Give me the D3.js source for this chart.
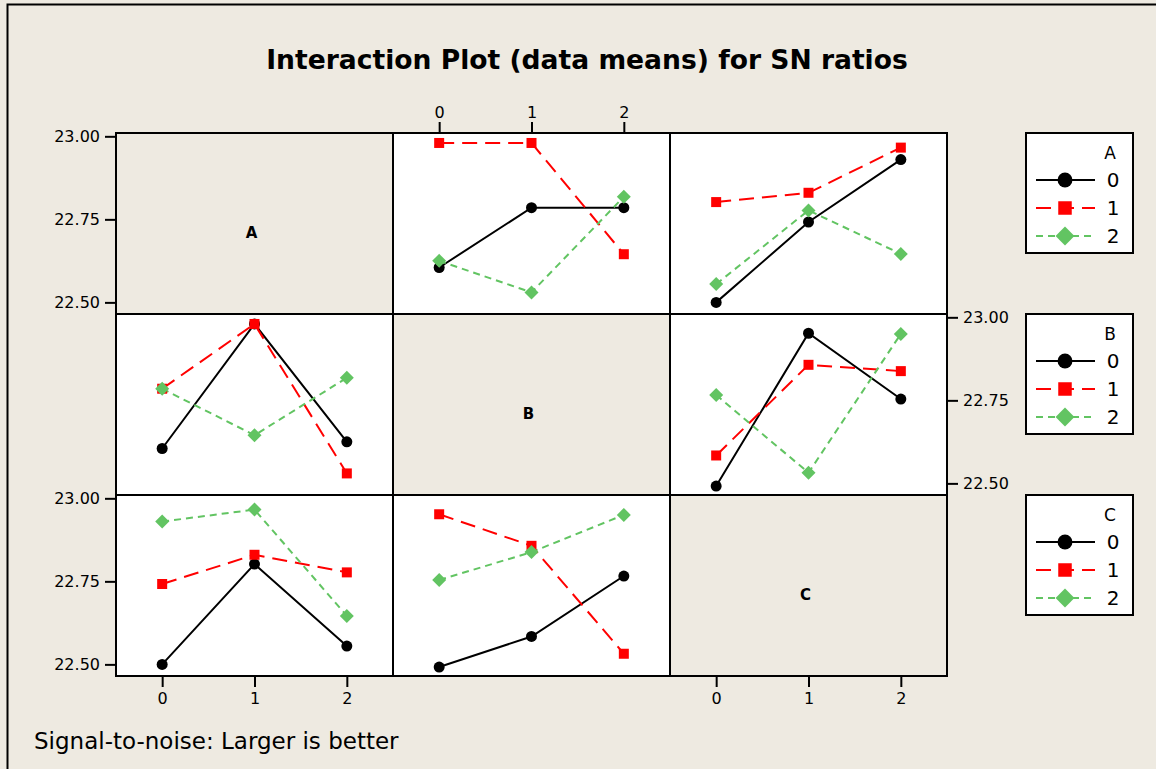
<!DOCTYPE html>
<html>
<head>
<meta charset="utf-8">
<script src="https://cdn.jsdelivr.net/npm/d3@7"></script>
<style>
  html, body { margin: 0; padding: 0; background: #eeeae1; }
  svg { display: block; }
</style>
</head>
<body>
<script>
// factors and levels
var factors = ['A', 'B', 'C'];
var levels = [0, 1, 2];
var yTicks = [22.50, 22.75, 23.00];

// interaction means: meansXY[x level][y level]
var meansAB = [
    [22.605, 22.785, 22.785],
    [22.980, 22.980, 22.645],
    [22.625, 22.530, 22.818]
];
var meansAC = [
    [22.500, 22.742, 22.930],
    [22.802, 22.830, 22.966],
    [22.555, 22.777, 22.646]
];
var meansBC = [
    [22.492, 22.952, 22.754],
    [22.584, 22.857, 22.838],
    [22.766, 22.532, 22.950]
];

var W = 1156, H = 769;
var color = d3.scaleOrdinal().domain(levels).range(['#000000', '#ff0000', '#62c462']);
var dash = {0: null, 1: '15,8', 2: '7,5'};

var grid = {left: 116, top: 133, cw: 277, rh: 181};

var svg = d3.select('body').append('svg')
    .attr('width', W)
    .attr('height', H)
    .style('font-family', 'DejaVu Sans, Verdana, sans-serif');

svg.append('rect')
    .attr('x', 7.5).attr('y', 4.5)
    .attr('width', W + 20).attr('height', H + 20)
    .attr('fill', '#eeeae1')
    .attr('stroke', '#000').attr('stroke-width', 2);

function fitText(sel, size, target) {
    sel.style('font-size', size + 'px');
    var w = sel.node().getComputedTextLength();
    if (w > target) sel.style('font-size', (size * target / w) + 'px');
}

var title = svg.append('text')
    .attr('x', 587).attr('y', 69)
    .attr('text-anchor', 'middle')
    .attr('font-weight', 'bold')
    .attr('fill', '#000')
    .text('Interaction Plot (data means) for SN ratios');
fitText(title, 30, 642);

var foot = svg.append('text')
    .attr('x', 34).attr('y', 749)
    .attr('fill', '#000')
    .text('Signal-to-noise: Larger is better');
fitText(foot, 23, 366);

var x = d3.scaleLinear().domain([-0.5, 2.5]).range([0, grid.cw]);
var y = d3.scaleLinear().domain([22.465, 23.01]).range([grid.rh, 0]);

function getMeans(rowF, colF) {
    // value for line level l (rowF) at x level k (colF)
    var key = [rowF, colF].sort().join('');
    var m = key == 'AB' ? meansAB : key == 'AC' ? meansAC : meansBC;
    var rowFirst = rowF < colF;
    return function (l, k) {
        return rowFirst ? m[l][k] : m[k][l];
    };
}

function marker(g, lvl, px, py, s) {
    if (lvl == 0) {
        g.append('circle').attr('cx', px).attr('cy', py).attr('r', 5.5 * s).attr('fill', '#000');
    } else if (lvl == 1) {
        g.append('rect').attr('x', px - 5 * s).attr('y', py - 5 * s)
            .attr('width', 10 * s).attr('height', 10 * s).attr('fill', color(1));
    } else {
        var r = 7 * s;
        g.append('path')
            .attr('d', 'M' + px + ',' + (py - r) + 'L' + (px + r) + ',' + py + 'L' + px + ',' + (py + r) + 'L' + (px - r) + ',' + py + 'Z')
            .attr('fill', color(2));
    }
}

factors.forEach(function (rowF, i) {
    factors.forEach(function (colF, j) {
        var g = svg.append('g')
            .attr('transform', 'translate(' + (grid.left + j * grid.cw) + ',' + (grid.top + i * grid.rh) + ')');
        var diag = i == j;
        g.append('rect')
            .attr('width', grid.cw).attr('height', grid.rh)
            .attr('fill', diag ? '#eeeae1' : '#ffffff');
        if (diag) {
            g.append('text')
                .attr('x', grid.cw / 2 - 3).attr('y', grid.rh / 2 + 10)
                .attr('text-anchor', 'middle')
                .attr('dominant-baseline', 'middle')
                .attr('font-weight', 'bold')
                .attr('font-size', 15)
                .text(rowF);
        } else {
            var val = getMeans(rowF, colF);
            levels.forEach(function (l) {
                var pts = levels.map(function (k) { return [x(k), y(val(l, k))]; });
                g.append('path')
                    .attr('d', d3.line()(pts))
                    .attr('fill', 'none')
                    .attr('stroke', color(l))
                    .attr('stroke-width', 2)
                    .attr('stroke-dasharray', dash[l]);
            });
            levels.forEach(function (l) {
                levels.forEach(function (k) {
                    marker(g, l, x(k), y(val(l, k)), 1);
                });
            });
        }
        g.append('rect')
            .attr('width', grid.cw).attr('height', grid.rh)
            .attr('fill', 'none')
            .attr('stroke', '#000').attr('stroke-width', 2);
    });
});

// axes, alternating like minitab
function styleAxis(a) {
    a.select('.domain').remove();
    a.selectAll('.tick line').attr('stroke', '#000').attr('stroke-width', 2);
    a.selectAll('.tick text').attr('fill', '#000').attr('font-size', 16)
        .style('font-family', 'DejaVu Sans, Verdana, sans-serif');
}
var fmt = d3.format('.2f');
var fmtX = d3.format('d');
[0, 2].forEach(function (i) {
    var a = svg.append('g')
        .attr('transform', 'translate(' + (grid.left - 1) + ',' + (grid.top + i * grid.rh) + ')')
        .call(d3.axisLeft(y).tickValues(yTicks).tickFormat(fmt).tickSize(10).tickPadding(5));
    styleAxis(a);
});
var ar = svg.append('g')
    .attr('transform', 'translate(' + (grid.left + 3 * grid.cw + 1) + ',' + (grid.top + grid.rh) + ')')
    .call(d3.axisRight(y).tickValues(yTicks).tickFormat(fmt).tickSize(10).tickPadding(5));
styleAxis(ar);
var at = svg.append('g')
    .attr('transform', 'translate(' + (grid.left + grid.cw) + ',' + (grid.top - 1) + ')')
    .call(d3.axisTop(x).tickValues(levels).tickFormat(fmtX).tickSize(10).tickPadding(4));
styleAxis(at);
[0, 2].forEach(function (j) {
    var a = svg.append('g')
        .attr('transform', 'translate(' + (grid.left + j * grid.cw) + ',' + (grid.top + 3 * grid.rh + 1) + ')')
        .call(d3.axisBottom(x).tickValues(levels).tickFormat(fmtX).tickSize(10).tickPadding(6));
    styleAxis(a);
});

// legends, one per row factor
factors.forEach(function (f, i) {
    var lg = svg.append('g')
        .attr('transform', 'translate(1026,' + (grid.top + i * grid.rh) + ')');
    lg.append('rect')
        .attr('width', 107).attr('height', 120)
        .attr('fill', '#ffffff')
        .attr('stroke', '#000').attr('stroke-width', 2);
    lg.append('text')
        .attr('x', 84).attr('y', 26)
        .attr('text-anchor', 'middle')
        .attr('font-size', 17)
        .text(f);
    levels.forEach(function (l, k) {
        var ly = 47 + k * 28;
        lg.append('path')
            .attr('d', 'M10,' + ly + 'H69')
            .attr('stroke', color(l))
            .attr('stroke-width', 2)
            .attr('stroke-dasharray', dash[l]);
        marker(lg, l, 39, ly, 1.35);
        lg.append('text')
            .attr('x', 87).attr('y', ly + 7)
            .attr('text-anchor', 'middle')
            .attr('font-size', 20)
            .text(l);
    });
});
</script>
</body>
</html>
